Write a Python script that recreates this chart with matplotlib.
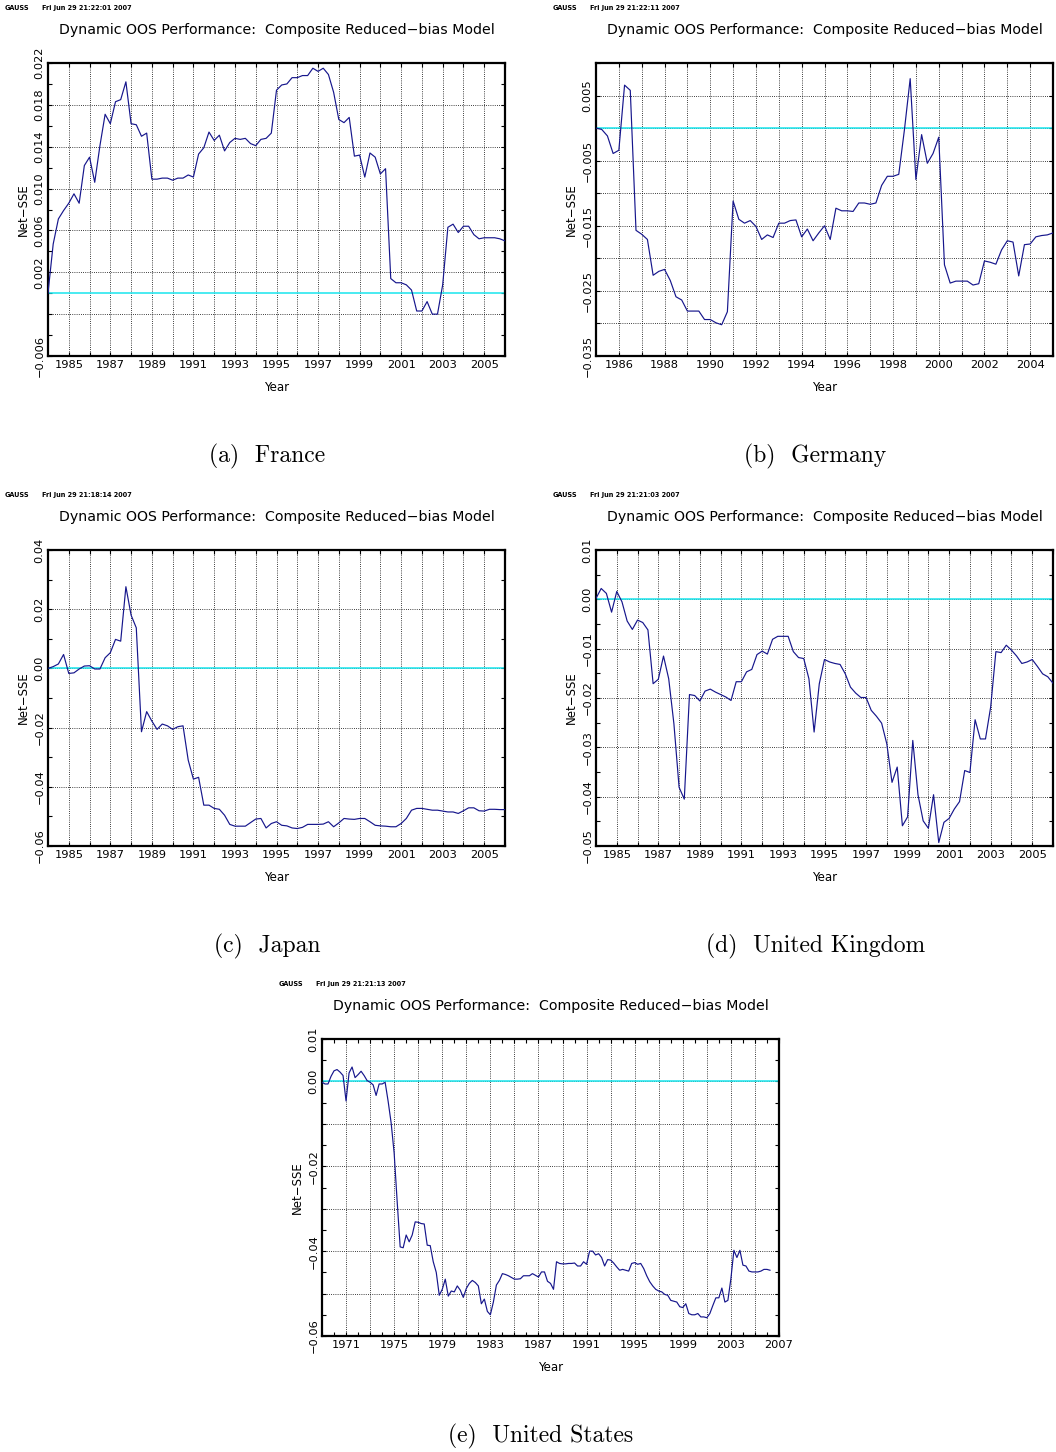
import numpy as np
import matplotlib
matplotlib.use("Agg")
import matplotlib.pyplot as plt

# ---------------- data (quarterly Net-SSE) ----------------
france_start = 1984.0
france_vals = [0.0000, 0.0047, 0.0071, 0.0079, 0.0086, 0.0095, 0.0086, 0.0122, 0.0130, 0.0106,
               0.0141, 0.0171, 0.0162, 0.0183, 0.0185, 0.0202, 0.0162, 0.0161, 0.0150, 0.0153,
               0.0109, 0.0109, 0.0110, 0.0110, 0.0108, 0.0110, 0.0110, 0.0113, 0.0111, 0.0133,
               0.0139, 0.0154, 0.0146, 0.0151, 0.0136, 0.0144, 0.0148, 0.0147, 0.0148, 0.0143,
               0.0141, 0.0147, 0.0148, 0.0153, 0.0194, 0.0199, 0.0200, 0.0206, 0.0206, 0.0208,
               0.0208, 0.0215, 0.0212, 0.0215, 0.0209, 0.0192, 0.0166, 0.0163, 0.0168, 0.0131,
               0.0132, 0.0111, 0.0134, 0.0130, 0.0114, 0.0119, 0.0014, 0.0010, 0.0010, 0.0008,
               0.0003, -0.0017, -0.0017, -0.0008, -0.0020, -0.0020, 0.0008, 0.0063, 0.0066, 0.0058,
               0.0064, 0.0064, 0.0056, 0.0052, 0.0053, 0.0053, 0.0053, 0.0052, 0.0050]

germany_start = 1985.0
germany_vals = [0.0000, -0.0002, -0.0012, -0.0039, -0.0034, 0.0066, 0.0058, -0.0157, -0.0163, -0.0171,
                -0.0226, -0.0220, -0.0217, -0.0234, -0.0259, -0.0264, -0.0281, -0.0281, -0.0281, -0.0294,
                -0.0294, -0.0299, -0.0302, -0.0282, -0.0112, -0.0140, -0.0146, -0.0142, -0.0151, -0.0171,
                -0.0164, -0.0168, -0.0146, -0.0146, -0.0142, -0.0141, -0.0167, -0.0155, -0.0173, -0.0161,
                -0.0150, -0.0171, -0.0123, -0.0127, -0.0127, -0.0128, -0.0115, -0.0115, -0.0117, -0.0115,
                -0.0088, -0.0074, -0.0074, -0.0071, -0.0002, 0.0076, -0.0079, -0.0010, -0.0054, -0.0039,
                -0.0014, -0.0210, -0.0238, -0.0235, -0.0235, -0.0235, -0.0241, -0.0239, -0.0204, -0.0206,
                -0.0209, -0.0187, -0.0173, -0.0175, -0.0227, -0.0179, -0.0178, -0.0167, -0.0165, -0.0164,
                -0.0161]

japan_start = 1984.0
japan_vals = [0.0000, 0.0006, 0.0015, 0.0047, -0.0017, -0.0015, -0.0002, 0.0008, 0.0009, -0.0002,
              -0.0002, 0.0036, 0.0053, 0.0098, 0.0092, 0.0276, 0.0180, 0.0137, -0.0214, -0.0146,
              -0.0178, -0.0206, -0.0188, -0.0194, -0.0206, -0.0197, -0.0194, -0.0310, -0.0374, -0.0368,
              -0.0462, -0.0462, -0.0473, -0.0476, -0.0496, -0.0527, -0.0533, -0.0533, -0.0533, -0.0521,
              -0.0509, -0.0507, -0.0539, -0.0524, -0.0518, -0.0530, -0.0532, -0.0539, -0.0541, -0.0537,
              -0.0527, -0.0527, -0.0527, -0.0526, -0.0518, -0.0535, -0.0522, -0.0507, -0.0509, -0.0510,
              -0.0507, -0.0507, -0.0518, -0.0530, -0.0532, -0.0533, -0.0535, -0.0535, -0.0524, -0.0507,
              -0.0479, -0.0473, -0.0473, -0.0476, -0.0479, -0.0479, -0.0482, -0.0485, -0.0485, -0.0490,
              -0.0481, -0.0471, -0.0471, -0.0481, -0.0482, -0.0476, -0.0476, -0.0477, -0.0477]

uk_start = 1984.0
uk_vals = [0.0002, 0.0022, 0.0012, -0.0026, 0.0016, -0.0005, -0.0044, -0.0061, -0.0042, -0.0047,
           -0.0062, -0.0171, -0.0162, -0.0115, -0.0161, -0.0252, -0.0381, -0.0405, -0.0193, -0.0195,
           -0.0206, -0.0186, -0.0182, -0.0188, -0.0193, -0.0198, -0.0205, -0.0167, -0.0167, -0.0147,
           -0.0142, -0.0112, -0.0105, -0.0111, -0.0081, -0.0075, -0.0075, -0.0075, -0.0106, -0.0118,
           -0.0120, -0.0161, -0.0269, -0.0171, -0.0122, -0.0127, -0.0130, -0.0132, -0.0151, -0.0178,
           -0.0190, -0.0199, -0.0199, -0.0225, -0.0237, -0.0251, -0.0293, -0.0371, -0.0340, -0.0459,
           -0.0441, -0.0286, -0.0396, -0.0449, -0.0464, -0.0396, -0.0493, -0.0452, -0.0444, -0.0425,
           -0.0410, -0.0347, -0.0351, -0.0244, -0.0283, -0.0283, -0.0218, -0.0106, -0.0108, -0.0093,
           -0.0103, -0.0115, -0.0130, -0.0127, -0.0122, -0.0136, -0.0151, -0.0157, -0.0170]

us_start = 1969.0
us_vals = [-0.0002, -0.0006, -0.0006, 0.0012, 0.0025, 0.0028, 0.0022, 0.0014, -0.0046, 0.0020,
           0.0034, 0.0009, 0.0016, 0.0024, 0.0014, 0.0002, -0.0002, -0.0008, -0.0033, -0.0006,
           -0.0006, -0.0002, -0.0047, -0.0098, -0.0169, -0.0283, -0.0390, -0.0392, -0.0362, -0.0378,
           -0.0362, -0.0331, -0.0332, -0.0335, -0.0336, -0.0386, -0.0387, -0.0425, -0.0450, -0.0504,
           -0.0490, -0.0466, -0.0506, -0.0494, -0.0496, -0.0482, -0.0492, -0.0509, -0.0488, -0.0476,
           -0.0469, -0.0474, -0.0482, -0.0524, -0.0513, -0.0542, -0.0550, -0.0520, -0.0480, -0.0469,
           -0.0453, -0.0455, -0.0458, -0.0462, -0.0466, -0.0466, -0.0465, -0.0458, -0.0458, -0.0458,
           -0.0453, -0.0457, -0.0461, -0.0449, -0.0449, -0.0471, -0.0476, -0.0490,
           -0.0425, -0.0429, -0.0430, -0.0430, -0.0429, -0.0429, -0.0428, -0.0435, -0.0435, -0.0425,
           -0.0431, -0.0400, -0.0400, -0.0409, -0.0406, -0.0415, -0.0435, -0.0420, -0.0421, -0.0428,
           -0.0437, -0.0445, -0.0443, -0.0445, -0.0447, -0.0429, -0.0427, -0.0431, -0.0429, -0.0441,
           -0.0458, -0.0472, -0.0482, -0.0490, -0.0494, -0.0496, -0.0502, -0.0504, -0.0516, -0.0518,
           -0.0520, -0.0531, -0.0533, -0.0524, -0.0547, -0.0550, -0.0550, -0.0547, -0.0555, -0.0555,
           -0.0557, -0.0547, -0.0528, -0.0510, -0.0510, -0.0487, -0.0520, -0.0516, -0.0465, -0.0398,
           -0.0415, -0.0398, -0.0433, -0.0435, -0.0447, -0.0449, -0.0449, -0.0449, -0.0447, -0.0443,
           -0.0443, -0.0445]

# tick labels
france_xlabels = [1985, 1987, 1989, 1991, 1993, 1995, 1997, 1999, 2001, 2003, 2005]
germany_xlabels = [1986, 1988, 1990, 1992, 1994, 1996, 1998, 2000, 2002, 2004]
japan_xlabels = france_xlabels
uk_xlabels = france_xlabels
us_xlabels = [1971, 1975, 1979, 1983, 1987, 1991, 1995, 1999, 2003, 2007]

france_ylabels = ["−0.006", "", "0.002", "0.006", "0.010", "0.014", "0.018", "0.022"]
germany_ylabels = ["−0.035", "", "−0.025", "", "−0.015", "", "−0.005", "", "0.005", ""]
japan_ylabels = ["−0.06", "−0.04", "−0.02", "0.00", "0.02", "0.04"]
uk_ylabels = ["−0.05", "−0.04", "−0.03", "−0.02", "−0.01", "0.00", "0.01"]
us_ylabels = ["−0.06", "", "−0.04", "", "−0.02", "", "0.00", "0.01"]

dates = {"France": "Fri Jun 29 21:22:01 2007",
         "Germany": "Fri Jun 29 21:22:11 2007",
         "Japan": "Fri Jun 29 21:18:14 2007",
         "UK": "Fri Jun 29 21:21:03 2007",
         "US": "Fri Jun 29 21:21:13 2007"}

TITLE = "Dynamic OOS Performance:  Composite Reduced−bias Model"
LINE_C = "#16168c"
CYAN = "#19e6ee"

W, H = 1056, 1452
fig = plt.figure(figsize=(W / 100, H / 100), dpi=100)


def rect(l, t, r, b):
    return [l / W, 1 - b / H, (r - l) / W, (b - t) / H]


def panel(box, start, vals, xlim, xgrid, xlabs, xminor, ylim, ystep, ylabs, yminor, date,
          caption, cap_x, cap_y):
    ax = fig.add_axes(rect(*box))
    x = start + np.arange(len(vals)) / 4.0
    ax.axhline(0.0, color=CYAN, lw=1.1, zorder=2)
    ax.plot(x, vals, color=LINE_C, lw=0.85, zorder=3)
    ax.set_xlim(*xlim)
    ax.set_ylim(*ylim)
    xt = np.arange(xlim[0], xlim[1] + 0.01, xgrid)
    xt = [v for v in xt if xlim[0] < v < xlim[1] + 0.01]
    ax.set_xticks(xt)
    ax.set_xticklabels([str(int(round(v))) if int(round(v)) in xlabs else "" for v in xt])
    if xminor:
        ax.set_xticks(np.arange(xlim[0], xlim[1] + 0.01, xminor), minor=True)
    yt = np.arange(ylim[0], ylim[1] + ystep * 0.01, ystep)
    ax.set_yticks(yt)
    ax.set_yticklabels(ylabs)
    if yminor:
        ax.set_yticks(np.arange(ylim[0], ylim[1] + yminor * 0.01, yminor), minor=True)
    ax.grid(True, which="major", color="black", linestyle=(0, (1, 1.6)), linewidth=0.6)
    ax.tick_params(which="both", direction="in", top=True, right=True, length=3,
                   width=0.8, labelsize=8.2, pad=3)
    ax.tick_params(axis="y", which="major", labelrotation=90, pad=2.5)
    for lab in ax.get_yticklabels():
        lab.set_va("center")
    for s in ax.spines.values():
        s.set_linewidth(1.6)
    ax.set_xlabel("Year", fontsize=8.5, labelpad=8)
    ax.set_ylabel("Net−SSE", fontsize=8.5, labelpad=3)
    l, t, r, b = box
    fig.text((l + r) / 2 / W, 1 - (t - 33) / H, TITLE, ha="center", va="center", fontsize=10.2)
    fig.text((l - 43) / W, 1 - (t - 55) / H, "GAUSS", ha="left", va="center", fontsize=4.7,
             fontweight="bold")
    fig.text((l - 6) / W, 1 - (t - 55) / H, date, ha="left", va="center", fontsize=4.7,
             fontweight="bold")
    fig.text(cap_x / W, 1 - cap_y / H, caption, ha="center", va="center", fontsize=17,
             family="cmr10")
    return ax


panel((48, 63, 505, 356), france_start, france_vals, (1984, 2006), 1, france_xlabels, None,
      (-0.006, 0.022), 0.004, france_ylabels, 0.002, dates["France"], "(a)  France", 267, 456)
panel((596, 63, 1053, 356), germany_start, germany_vals, (1985, 2005), 1, germany_xlabels, None,
      (-0.035, 0.010), 0.005, germany_ylabels, None, dates["Germany"], "(b)  Germany", 815, 456)
panel((48, 550, 505, 846), japan_start, japan_vals, (1984, 2006), 1, japan_xlabels, None,
      (-0.06, 0.04), 0.02, japan_ylabels, 0.01, dates["Japan"], "(c)  Japan", 267, 946)
panel((596, 550, 1053, 846), uk_start, uk_vals, (1984, 2006), 1, uk_xlabels, None,
      (-0.05, 0.01), 0.01, uk_ylabels, 0.005, dates["UK"], "(d)  United Kingdom", 816, 946)
panel((322, 1039, 779, 1336), us_start, us_vals, (1969, 2007), 2, us_xlabels, 1,
      (-0.06, 0.01), 0.01, us_ylabels, 0.005, dates["US"], "(e)  United States", 541, 1436)

fig.savefig("out.png", dpi=100)
